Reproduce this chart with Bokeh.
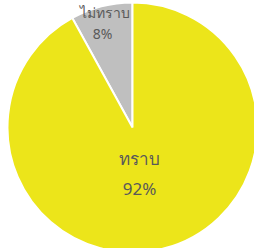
import math
from bokeh.plotting import figure
from bokeh.models import ColumnDataSource, Range1d
from bokeh.core.properties import value
from bokeh.embed import file_html
from bokeh.resources import INLINE

labels = ["ไม่ทราบ", "ทราบ"]
values = [8, 92]
colors = ["#BFBFBF", "#ECE51A"]

total = sum(values)
starts, ends = [], []
acc = 0.0
for v in values:
    a0 = math.pi / 2 + 2 * math.pi * acc / total
    acc += v
    a1 = math.pi / 2 + 2 * math.pi * acc / total
    starts.append(a0)
    ends.append(a1)

src = ColumnDataSource(dict(start=starts, end=ends, color=colors))

p = figure(width=254, height=248, output_backend="svg", toolbar_location=None,
           x_range=Range1d(-1.056, 0.976), y_range=Range1d(-0.968, 1.016),
           min_border=0)
p.axis.visible = False
p.grid.visible = False
p.outline_line_color = None
p.background_fill_color = "white"

p.wedge(x=0, y=0, radius=1, start_angle="start", end_angle="end",
        fill_color="color", line_color="white", line_width=2, source=src)

# labels
p.text(x=[-0.224], y=[0.92], text=[labels[0]], text_align="center", text_baseline="middle",
       text_font=value("Noto Sans"), text_font_size="14px", text_color="#595959")
p.text(x=[-0.24], y=[0.75], text=[f"{values[0]}%"], text_align="center", text_baseline="middle",
       text_font=value("Noto Sans"), text_font_size="14px", text_color="#595959")
p.text(x=[0.056], y=[-0.248], text=[labels[1]], text_align="center", text_baseline="middle",
       text_font=value("Noto Sans"), text_font_size="17px", text_color="#595959")
p.text(x=[0.056], y=[-0.488], text=[f"{values[1]}%"], text_align="center", text_baseline="middle",
       text_font=value("Noto Sans"), text_font_size="17px", text_color="#595959")

open("out.html", "w").write(file_html(p, INLINE))
